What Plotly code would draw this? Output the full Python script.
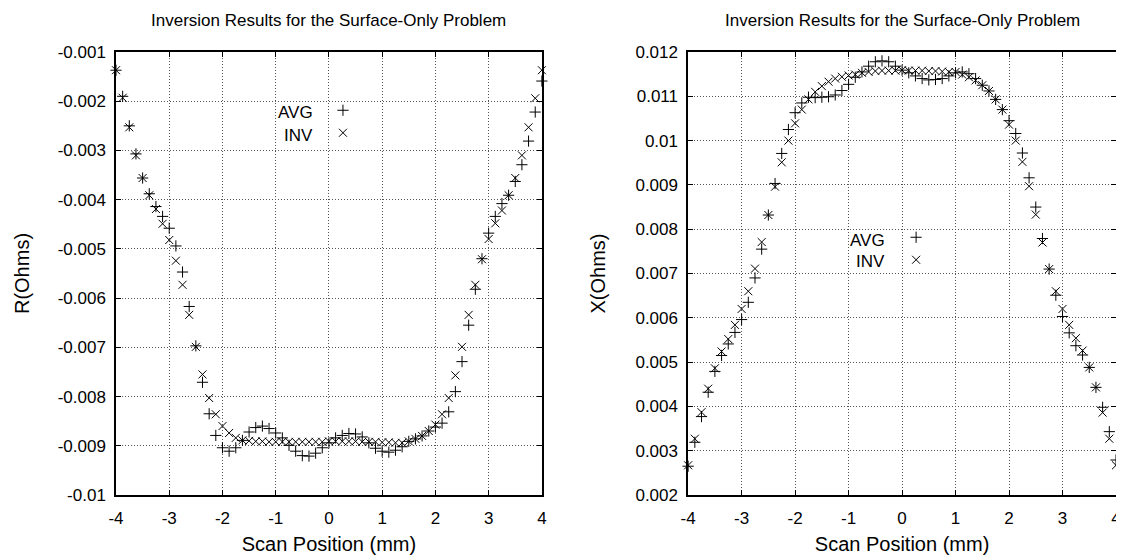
import plotly.graph_objs as go

# scan positions (mm), shared by both panels
scan_pos = [-4.0, -3.875, -3.75, -3.625, -3.5, -3.375, -3.25, -3.125, -3.0, -2.875, -2.75, -2.625, -2.5,
            -2.375, -2.25, -2.125, -2.0, -1.875, -1.75, -1.625, -1.5, -1.375, -1.25, -1.125, -1.0,
            -0.875, -0.75, -0.625, -0.5, -0.375, -0.25, -0.125, 0.0, 0.125, 0.25, 0.375, 0.5, 0.625,
            0.75, 0.875, 1.0, 1.125, 1.25, 1.375, 1.5, 1.625, 1.75, 1.875, 2.0, 2.125, 2.25, 2.375,
            2.5, 2.625, 2.75, 2.875, 3.0, 3.125, 3.25, 3.375, 3.5, 3.625, 3.75, 3.875, 4.0]

# R(Ohms) panel
r_avg = [-0.00137, -0.00190, -0.00250, -0.00307, -0.00356, -0.00388, -0.00414, -0.00434, -0.00458,
         -0.00494, -0.00547, -0.00617, -0.00697, -0.00771, -0.00835, -0.00879, -0.00904, -0.00911,
         -0.00904, -0.00889, -0.00872, -0.00863, -0.00860, -0.00865, -0.00874, -0.00884, -0.00899,
         -0.00911, -0.00920, -0.00921, -0.00915, -0.00904, -0.00894, -0.00884, -0.00879, -0.00875,
         -0.00876, -0.00882, -0.00894, -0.00905, -0.00911, -0.00913, -0.00909, -0.00902, -0.00891,
         -0.00886, -0.00880, -0.00870, -0.00862, -0.00854, -0.00831, -0.00790, -0.00729, -0.00655,
         -0.00582, -0.00520, -0.00468, -0.00434, -0.00408, -0.00391, -0.00363, -0.00329, -0.00281,
         -0.00222, -0.00159]
r_inv = [-0.00137, -0.00193, -0.00253, -0.00310, -0.00356, -0.00391, -0.00419, -0.00449, -0.00482,
         -0.00524, -0.00573, -0.00634, -0.00699, -0.00755, -0.00803, -0.00836, -0.00860, -0.00874,
         -0.00884, -0.00889, -0.00890, -0.00891, -0.00891, -0.00892, -0.00892, -0.00892, -0.00892,
         -0.00892, -0.00892, -0.00892, -0.00892, -0.00892, -0.00891, -0.00891, -0.00891, -0.00891,
         -0.00891, -0.00892, -0.00892, -0.00892, -0.00893, -0.00893, -0.00894, -0.00894, -0.00891,
         -0.00886, -0.00880, -0.00870, -0.00857, -0.00836, -0.00803, -0.00757, -0.00699, -0.00634,
         -0.00573, -0.00521, -0.00480, -0.00448, -0.00422, -0.00391, -0.00356, -0.00310, -0.00253,
         -0.00194, -0.00137]

# X(Ohms) panel
x_avg = [0.00265, 0.00319, 0.00377, 0.00432, 0.00479, 0.00515, 0.00541, 0.00567, 0.00596, 0.00635,
         0.00690, 0.00755, 0.00832, 0.00903, 0.00971, 0.01025, 0.01063, 0.01085, 0.01098, 0.01097,
         0.01098, 0.01099, 0.01103, 0.01113, 0.01127, 0.01143, 0.01155, 0.01168, 0.01178, 0.01180,
         0.01178, 0.01168, 0.01159, 0.01153, 0.01146, 0.01140, 0.01137, 0.01138, 0.01140, 0.01146,
         0.01153, 0.01155, 0.01151, 0.01140, 0.01125, 0.01112, 0.01093, 0.01070, 0.01045, 0.01016,
         0.00972, 0.00916, 0.00850, 0.00779, 0.00710, 0.00651, 0.00603, 0.00566, 0.00537, 0.00516,
         0.00488, 0.00443, 0.00398, 0.00343, 0.00279]
x_inv = [0.00267, 0.00327, 0.00387, 0.00440, 0.00486, 0.00524, 0.00552, 0.00584, 0.00620, 0.00660,
         0.00711, 0.00771, 0.00832, 0.00896, 0.00951, 0.01000, 0.01039, 0.01070, 0.01093, 0.01110,
         0.01123, 0.01133, 0.01140, 0.01144, 0.01147, 0.01149, 0.01153, 0.01155, 0.01157, 0.01158,
         0.01158, 0.01158, 0.01159, 0.01158, 0.01158, 0.01158, 0.01157, 0.01157, 0.01156, 0.01155,
         0.01155, 0.01149, 0.01143, 0.01136, 0.01125, 0.01112, 0.01093, 0.01070, 0.01036, 0.01000,
         0.00952, 0.00897, 0.00833, 0.00770, 0.00710, 0.00660, 0.00620, 0.00584, 0.00554, 0.00526,
         0.00488, 0.00443, 0.00386, 0.00327, 0.00267]

# tick labels
x_ticks = [-4, -3, -2, -1, 0, 1, 2, 3, 4]
x_ticktext = ["-4", "-3", "-2", "-1", "0", "1", "2", "3", "4"]
r_ticks = [-0.001, -0.002, -0.003, -0.004, -0.005, -0.006, -0.007, -0.008, -0.009, -0.01]
r_ticktext = ["-0.001", "-0.002", "-0.003", "-0.004", "-0.005", "-0.006", "-0.007", "-0.008", "-0.009", "-0.01"]
xo_ticks = [0.002, 0.003, 0.004, 0.005, 0.006, 0.007, 0.008, 0.009, 0.01, 0.011, 0.012]
xo_ticktext = ["0.002", "0.003", "0.004", "0.005", "0.006", "0.007", "0.008", "0.009", "0.01", "0.011", "0.012"]

title_text = "Inversion Results for the Surface-Only Problem"
FONT = "Liberation Sans, Arial, Helvetica, sans-serif"

# page geometry (px)
W, H = 1124, 556
ML, MR, MT, MB = 108, 11, 44, 69
PW, PH = W - ML - MR, H - MT - MB


def px(x):
    return (x - ML) / PW


def py(y):
    return (H - MB - y) / PH


def marker(sym):
    return dict(symbol=sym, size=8, color="black", line=dict(width=1, color="black"))


fig = go.Figure()
fig.add_trace(go.Scatter(x=scan_pos, y=r_avg, mode="markers", name="", marker=marker("cross-thin"),
                         xaxis="x", yaxis="y", legend="legend", cliponaxis=False))
fig.add_trace(go.Scatter(x=scan_pos, y=r_inv, mode="markers", name="", marker=marker("x-thin"),
                         xaxis="x", yaxis="y", legend="legend", cliponaxis=False))
fig.add_trace(go.Scatter(x=scan_pos, y=x_avg, mode="markers", name="", marker=marker("cross-thin"),
                         xaxis="x2", yaxis="y2", legend="legend2", cliponaxis=False))
fig.add_trace(go.Scatter(x=scan_pos, y=x_inv, mode="markers", name="", marker=marker("x-thin"),
                         xaxis="x2", yaxis="y2", legend="legend2", cliponaxis=False))

axis_style = dict(
    showline=True, linecolor="black", linewidth=1.5, mirror="ticks",
    ticks="inside", ticklen=5, tickcolor="black", tickwidth=1,
    showgrid=True, gridcolor="#555", gridwidth=1, griddash="1px,2px",
    zeroline=False, tickfont=dict(family=FONT, size=17, color="black"),
)

fig.update_layout(
    width=W, height=H,
    margin=dict(l=ML, r=MR, t=MT, b=MB),
    paper_bgcolor="white", plot_bgcolor="white",
    font=dict(family=FONT, size=17, color="black"),
    xaxis=dict(axis_style, domain=[0, px(536)], range=[-4, 4], tickvals=x_ticks, ticktext=x_ticktext,
               anchor="y", ticklabelstandoff=7,
               title=dict(text="Scan Position (mm)", standoff=10)),
    yaxis=dict(axis_style, domain=[0, 1], range=[-0.01, -0.001], tickvals=r_ticks, ticktext=r_ticktext,
               anchor="x", ticklabelstandoff=5,
               title=dict(text="R(Ohms)", standoff=23)),
    xaxis2=dict(axis_style, domain=[px(683), 1], range=[-4, 4], tickvals=x_ticks, ticktext=x_ticktext,
                anchor="y2", ticklabelstandoff=7,
                title=dict(text="Scan Position (mm)", standoff=10)),
    yaxis2=dict(axis_style, domain=[0, 1], range=[0.002, 0.012], tickvals=xo_ticks, ticktext=xo_ticktext,
                anchor="x2", ticklabelstandoff=5,
                title=dict(text="X(Ohms)", standoff=24)),
    legend=dict(x=px(316), y=py(86), xanchor="left", yanchor="top", bgcolor="rgba(0,0,0,0)",
                font=dict(size=15), itemwidth=30),
    legend2=dict(x=px(892), y=py(213), xanchor="left", yanchor="top", bgcolor="rgba(0,0,0,0)",
                 font=dict(size=15), itemwidth=30),
    showlegend=True,
)

# panel titles
for cx in (322, 898):
    fig.add_annotation(text=title_text, x=px(cx), y=py(13), xref="paper", yref="paper",
                       showarrow=False, xanchor="center", yanchor="middle", font=dict(size=17))

# legend labels sit left of the symbols, gnuplot style
for rx, ys in ((308, (105, 127)), (883, (232, 253))):
    for label, yy in zip(("AVG", "INV"), ys):
        fig.add_annotation(text=label, x=px(rx), y=py(yy), xref="paper", yref="paper",
                           showarrow=False, xanchor="right", yanchor="middle", font=dict(size=17))

fig.write_html("out.html")
